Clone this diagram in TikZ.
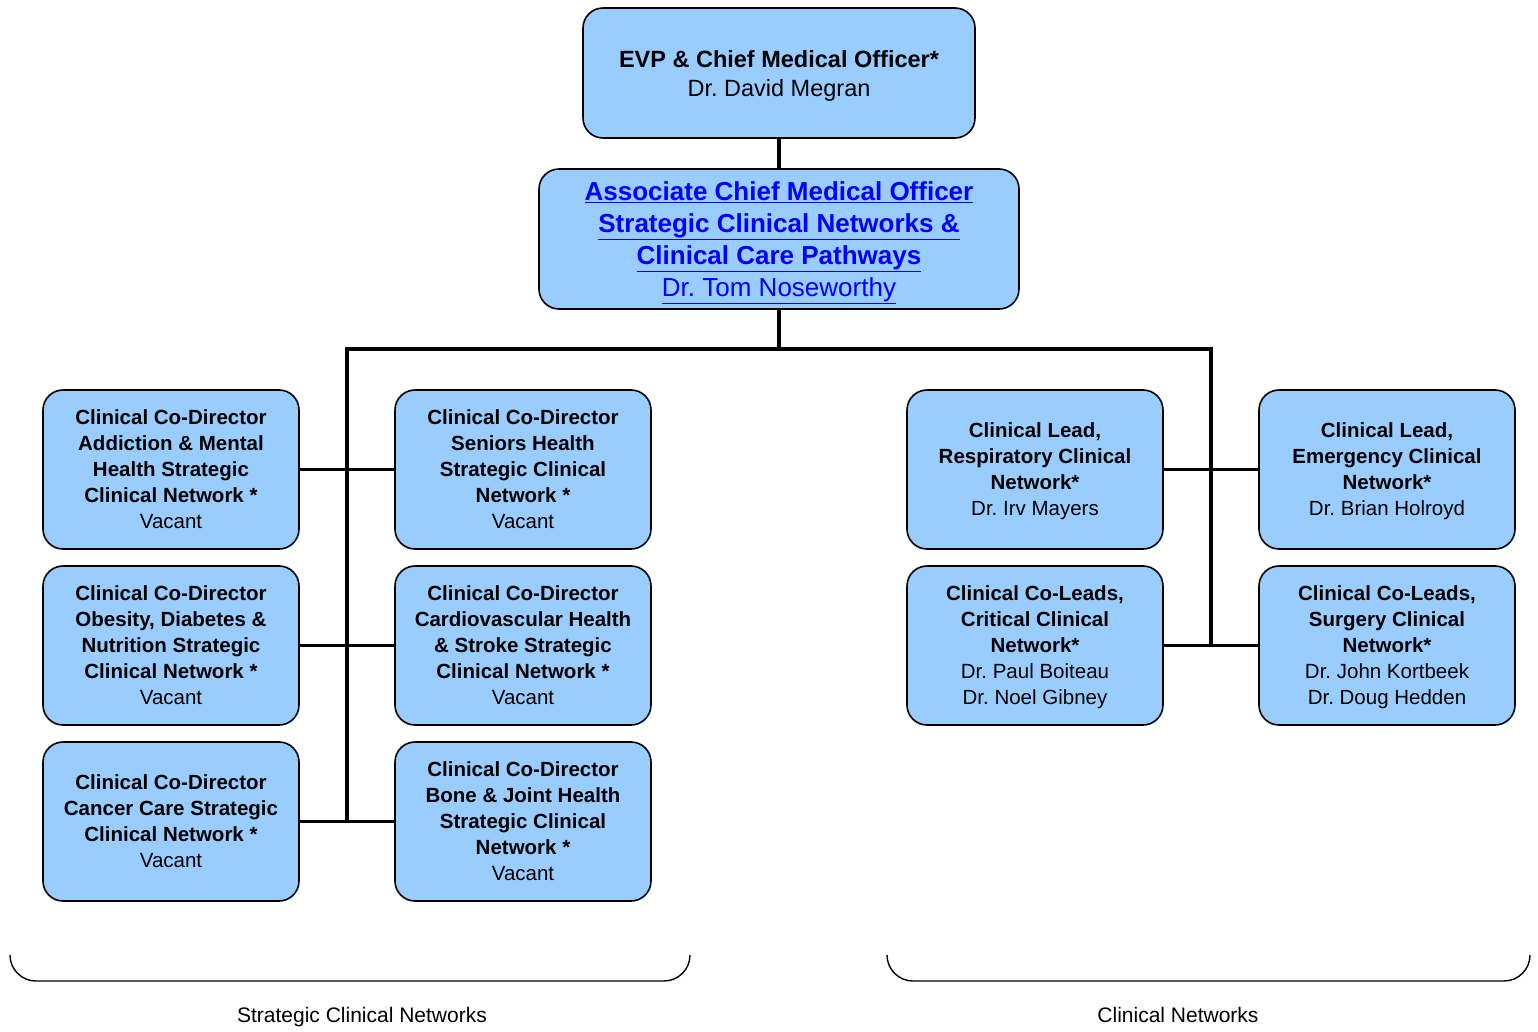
\documentclass[tikz,border=0pt]{standalone}
\usepackage{fontspec}
\setmainfont{Liberation Sans}
\frenchspacing
\definecolor{boxfill}{HTML}{99CCFF}
\definecolor{linkblue}{HTML}{0000FF}
\begin{document}
\begin{tikzpicture}[x=1pt,y=-1pt,
  orgbox/.style={draw=black, line width=1.6pt, fill=boxfill, rounded corners=20pt,
    minimum width=256pt, minimum height=159pt, inner sep=0pt, align=center,
    text depth=-2pt, font=\fontsize{20.5}{26}\selectfont},
  conn/.style={line width=3.2pt, line cap=rect},
  bracestyle/.style={line width=1.4pt, rounded corners=26pt},
  grouplabel/.style={font=\fontsize{21}{25}\selectfont, inner sep=0pt, anchor=base}]
\useasboundingbox (0,0) rectangle (1538,1031);

% top
\node[orgbox, minimum width=392pt, minimum height=130pt, font=\fontsize{23.5}{29}\selectfont] (cmo) at (779,73)
  {\textbf{EVP \& Chief Medical Officer*}\\Dr. David Megran};
\node[orgbox, minimum width=480pt, minimum height=140pt, font=\fontsize{26}{32}\selectfont, text=linkblue] (acmo) at (779,239)
  {\textbf{\underline{Associate Chief Medical Officer}}\\
   \textbf{\underline{Strategic Clinical Networks \&}}\\
   \textbf{\underline{Clinical Care Pathways}}\\
   \underline{Dr. Tom Noseworthy}};

% strategic clinical networks
\node[orgbox] (amh) at (171,469.5) {\textbf{Clinical Co-Director}\\\textbf{Addiction \& Mental}\\\textbf{Health Strategic}\\\textbf{Clinical Network *}\\Vacant};
\node[orgbox] (odn) at (171,645.5) {\textbf{Clinical Co-Director}\\\textbf{Obesity, Diabetes \&}\\\textbf{Nutrition Strategic}\\\textbf{Clinical Network *}\\Vacant};
\node[orgbox] (cc) at (171,821.5) {\textbf{Clinical Co-Director}\\\textbf{Cancer Care Strategic}\\\textbf{Clinical Network *}\\Vacant};
\node[orgbox] (sh) at (523,469.5) {\textbf{Clinical Co-Director}\\\textbf{Seniors Health}\\\textbf{Strategic Clinical}\\\textbf{Network *}\\Vacant};
\node[orgbox] (cvh) at (523,645.5) {\textbf{Clinical Co-Director}\\\textbf{Cardiovascular Health}\\\textbf{\& Stroke Strategic}\\\textbf{Clinical Network *}\\Vacant};
\node[orgbox] (bjh) at (523,821.5) {\textbf{Clinical Co-Director}\\\textbf{Bone \& Joint Health}\\\textbf{Strategic Clinical}\\\textbf{Network *}\\Vacant};

% clinical networks
\node[orgbox] (resp) at (1035,469.5) {\textbf{Clinical Lead,}\\\textbf{Respiratory Clinical}\\\textbf{Network*}\\Dr. Irv Mayers};
\node[orgbox] (crit) at (1035,645.5) {\textbf{Clinical Co-Leads,}\\\textbf{Critical Clinical}\\\textbf{Network*}\\Dr. Paul Boiteau\\Dr. Noel Gibney};
\node[orgbox] (emerg) at (1387,469.5) {\textbf{Clinical Lead,}\\\textbf{Emergency Clinical}\\\textbf{Network*}\\Dr. Brian Holroyd};
\node[orgbox] (surg) at (1387,645.5) {\textbf{Clinical Co-Leads,}\\\textbf{Surgery Clinical}\\\textbf{Network*}\\Dr. John Kortbeek\\Dr. Doug Hedden};

% connectors
\coordinate (busC) at (779,349);
\coordinate (busL) at (347,349);
\coordinate (busR) at (1211,349);
\draw[conn, line cap=butt] (cmo.south) -- (acmo.north);
\draw[conn, line cap=butt] (acmo.south) -- (busC);
\draw[conn] (busL) -- (busR);
\draw[conn] (busL) -- (busL |- cc.east);
\draw[conn] (busR) -- (busR |- crit.east);
\draw[conn, line cap=butt] (amh.east) -- (sh.west);
\draw[conn, line cap=butt] (odn.east) -- (cvh.west);
\draw[conn, line cap=butt] (cc.east) -- (bjh.west);
\draw[conn, line cap=butt] (resp.east) -- (emerg.west);
\draw[conn, line cap=butt] (crit.east) -- (surg.west);

% group braces
\coordinate (b1a) at (10,955);
\coordinate (b1b) at (690,955);
\coordinate (b2a) at (887,955);
\coordinate (b2b) at (1530,955);
\draw[bracestyle] (b1a) -- (b1a |- 0,981) -- (b1b |- 0,981) -- (b1b);
\draw[bracestyle] (b2a) -- (b2a |- 0,981) -- (b2b |- 0,981) -- (b2b);
\node[grouplabel] (scnlabel) at (362,1022) {Strategic Clinical Networks};
\node[grouplabel] (cnlabel) at (1178,1022) {Clinical Networks};
\end{tikzpicture}
\end{document}
